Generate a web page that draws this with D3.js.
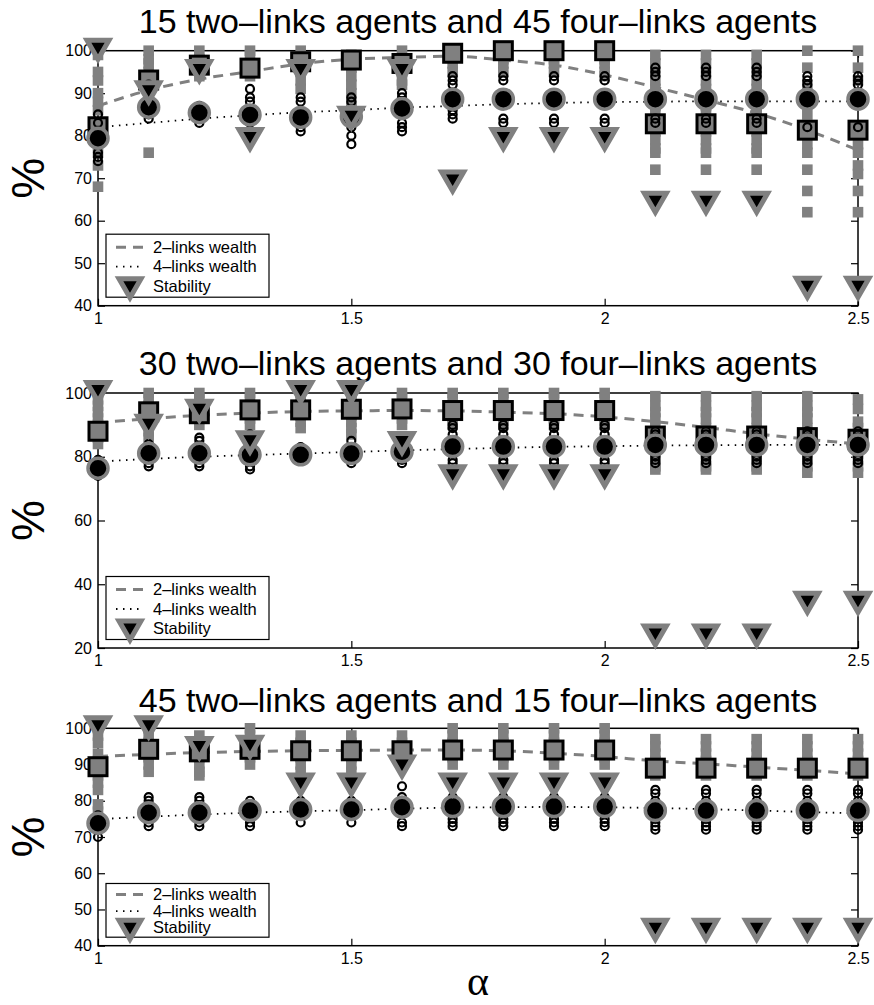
<!DOCTYPE html>
<html>
<head>
<meta charset="utf-8">
<script src="https://cdn.jsdelivr.net/npm/d3@7"></script>
<style>
body { margin: 0; background: #fff; }
svg { display: block; }
text { font-family: "Liberation Sans", Arial, Helvetica, sans-serif; fill: #000; }
</style>
</head>
<body>
<svg width="874" height="1005"></svg>
<script>
// alpha values on the x axis
const alphas = [1.0, 1.1, 1.2, 1.3, 1.4, 1.5, 1.6, 1.7, 1.8, 1.9, 2.0, 2.1, 2.2, 2.3, 2.4, 2.5]
const xTicks = [1, 1.5, 2, 2.5]

const titles = [
    '15 two\u2013links agents and 45 four\u2013links agents',
    '30 two\u2013links agents and 30 four\u2013links agents',
    '45 two\u2013links agents and 15 four\u2013links agents'
]
const yDomains = [[40, 100], [20, 100], [40, 100]]
const yTicks = [
    [40, 50, 60, 70, 80, 90, 100],
    [20, 40, 60, 80, 100],
    [40, 50, 60, 70, 80, 90, 100]
]
const legendLabels = ['2\u2013links wealth', '4\u2013links wealth', 'Stability']

// ---- panel 1 : 15 / 45 ----
const p1TwoMean = [82.1, 93.1, 96.6, 95.9, 97.4, 97.8, 97.0, 99.4, 100, 100, 100, 82.8, 82.8, 82.8, 81.3, 81.3]
const p1FourMean = [79.4, 86.7, 85.4, 84.9, 84.3, 84.5, 86.4, 88.6, 88.6, 88.6, 88.6, 88.6, 88.6, 88.6, 88.6, 88.6]
const p1Stability = [100, 90, 95, 79, 95, 84, 95, 69, 79, 79, 79, 64, 64, 64, 44, 44]
const p1TwoTrend = [87.0, 90.7, 93.3, 95.1, 96.9, 98.0, 98.4, 98.7, 97.8, 96.6, 94.3, 91.4, 88.4, 85.3, 81.3, 76.6]
const p1FourTrend = [82.0, 83.0, 84.0, 84.8, 85.5, 86.0, 86.6, 87.0, 87.4, 87.7, 87.9, 88.0, 88.1, 88.1, 88.1, 88.1]
const p1TwoRuns = [
    [99, 95, 93, 90, 88, 86, 82, 79, 76, 73, 68],
    [100, 98, 97, 95, 94, 92, 91, 76],
    [100, 98, 97, 95, 94],
    [100, 99, 97, 96, 95, 94],
    [100, 98, 96, 95, 93, 91],
    [99, 98, 96, 94, 92, 90, 88, 87],
    [100, 98, 97, 95, 93, 92],
    [100, 99, 97, 95],
    [100, 98, 97, 95],
    [100, 98, 97, 95],
    [100, 98, 97, 95, 94],
    [99, 97, 95, 93, 91, 89, 87, 85, 83, 81, 79, 77, 76, 72],
    [99, 97, 95, 93, 91, 89, 87, 85, 83, 81, 79, 77, 76, 72],
    [99, 97, 95, 93, 91, 89, 87, 85, 83, 81, 79, 77, 76, 72],
    [100, 96, 92, 88, 85, 81, 78, 76, 72, 67, 62],
    [100, 96, 93, 81, 78, 76, 73, 71, 67, 62]
]
const p1FourRuns = [
    [85, 83, 81, 78, 76, 75, 74],
    [92, 88, 87, 85, 84],
    [87, 86, 84, 83],
    [91, 89, 88, 83],
    [89, 88, 85, 83, 82, 81],
    [89, 88, 84, 82, 80, 78],
    [90, 89, 85, 83, 82, 81],
    [94, 93, 92, 86, 85, 84],
    [94, 93, 84, 83],
    [94, 93, 84, 83],
    [94, 93, 84, 83],
    [96, 95, 94, 84, 83],
    [96, 95, 94, 84, 83],
    [96, 95, 94, 84, 83],
    [94, 93, 92, 82],
    [94, 93, 92, 82]
]

// ---- panel 2 : 30 / 30 ----
const p2TwoMean = [88, 94.1, 93.5, 94.7, 94.7, 94.9, 95, 94.5, 94.5, 94.5, 94.5, 86.5, 86.5, 86.5, 86, 85.5]
const p2FourMean = [76.4, 81.1, 81.1, 80.6, 80.6, 81, 81.6, 83.2, 83.2, 83.2, 83.2, 83.7, 83.7, 83.7, 83.7, 83.7]
const p2Stability = [100, 89.4, 94.1, 84.2, 100, 100, 84, 73.6, 73.6, 73.6, 73.6, 23.6, 23.6, 23.6, 33.9, 33.9]
const p2TwoTrend = [90.7, 91.9, 93.0, 93.7, 94.2, 94.4, 94.5, 94.4, 94.0, 93.5, 92.5, 91.0, 89.2, 87.2, 85.5, 84.0]
const p2FourTrend = [78.5, 79.3, 80.0, 80.5, 81.0, 81.5, 82.0, 82.4, 82.8, 83.1, 83.3, 83.5, 83.6, 83.7, 83.7, 83.7]
const p2TwoRuns = [
    [100, 98, 96, 94, 92, 90, 88, 86, 84],
    [100, 98, 96, 94, 92, 90, 88, 86],
    [100, 98, 96, 94, 92, 90],
    [100, 98, 96, 94, 92, 90],
    [100, 97, 95, 93, 91, 89],
    [100, 97, 95, 93, 91, 89, 87],
    [100, 98, 96, 94, 92, 90],
    [100, 98, 96, 94, 92, 90],
    [100, 98, 96, 94, 92, 90],
    [100, 98, 96, 94, 92, 90],
    [100, 98, 96, 94, 92, 90],
    [99, 96, 94, 92, 89, 87, 85, 83, 81, 79, 77, 76],
    [99, 96, 94, 92, 89, 87, 85, 83, 81, 79, 77, 76],
    [99, 96, 94, 92, 89, 87, 85, 83, 81, 79, 77, 76],
    [99, 96, 94, 92, 89, 87, 85, 83, 81, 79, 77, 75],
    [98, 95, 91, 89, 87, 85, 83, 81, 79, 77, 75]
]
const p2FourRuns = [
    [79, 77, 75, 74],
    [84, 82, 80, 78, 77],
    [86, 85, 82, 80, 78, 77],
    [87, 84, 82, 79, 77, 76],
    [83, 82, 80, 79],
    [85, 83, 81, 79, 78],
    [85, 83, 81, 79, 78],
    [90, 89, 87, 85, 81, 79, 78],
    [90, 89, 87, 85, 81, 79, 78],
    [90, 89, 87, 85, 81, 79, 78],
    [90, 89, 87, 85, 81, 79, 78],
    [88, 87, 86, 85, 82, 80, 79, 78],
    [88, 87, 86, 85, 82, 80, 79, 78],
    [88, 87, 86, 85, 82, 80, 79, 78],
    [88, 87, 86, 85, 82, 80, 79, 78],
    [88, 87, 86, 85, 82, 80, 79, 78]
]

// ---- panel 3 : 45 / 15 ----
const p3TwoMean = [89.4, 94.2, 93.5, 94.2, 93.8, 93.8, 93.8, 94, 94, 94, 94, 89, 89, 89, 89, 89]
const p3FourMean = [73.8, 76.7, 76.7, 77.3, 77.6, 77.6, 78.2, 78.4, 78.4, 78.4, 78.4, 77.3, 77.3, 77.3, 77.3, 77.3]
const p3Stability = [100, 100, 94.3, 94.6, 84.2, 84.2, 89.2, 84.2, 84.2, 84.2, 84.2, 44.1, 44.1, 44.1, 44.1, 44.1]
const p3TwoTrend = [92.2, 92.8, 93.3, 93.6, 93.8, 93.9, 94.0, 94.0, 93.8, 93.1, 92.2, 91.0, 90.2, 89.3, 88.4, 87.4]
const p3FourTrend = [74.9, 75.6, 76.2, 76.7, 77.1, 77.4, 77.8, 78.1, 78.2, 78.3, 78.2, 78.0, 77.7, 77.3, 76.9, 76.5]
const p3TwoRuns = [
    [100, 98, 96, 93, 91, 89, 87, 85, 83, 79, 77],
    [100, 98, 96, 94, 92, 90, 88],
    [98, 96, 94, 92, 90, 88, 87],
    [100, 98, 96, 94, 92, 90],
    [98, 96, 94, 92, 90, 88],
    [98, 96, 94, 92, 90, 88],
    [98, 96, 94, 92, 90],
    [100, 98, 96, 94, 92, 90],
    [100, 98, 96, 94, 92, 90],
    [100, 98, 96, 94, 92, 90],
    [100, 98, 96, 94, 92, 90],
    [97, 95, 93, 91, 89, 87],
    [97, 95, 93, 91, 89, 87],
    [97, 95, 93, 91, 89, 87],
    [97, 95, 93, 91, 89, 87],
    [97, 95, 93, 91, 89, 87]
]
const p3FourRuns = [
    [76, 75, 74, 72, 70],
    [81, 80, 79, 74, 73],
    [81, 80, 74, 73],
    [80, 79, 74, 73],
    [80, 79, 74],
    [80, 79, 74],
    [84, 81, 80, 74, 73],
    [81, 80, 75, 74, 73],
    [81, 80, 75, 74, 73],
    [81, 80, 75, 74, 73],
    [81, 80, 75, 74, 73],
    [83, 82, 80, 76, 75, 74, 73, 72],
    [83, 82, 80, 76, 75, 74, 73, 72],
    [83, 82, 80, 76, 75, 74, 73, 72],
    [83, 82, 80, 76, 75, 74, 73, 72],
    [83, 82, 80, 76, 75, 74, 73, 72]
]

const panelData = [
    {twoMean: p1TwoMean, fourMean: p1FourMean, stab: p1Stability, twoTrend: p1TwoTrend, fourTrend: p1FourTrend, twoRuns: p1TwoRuns, fourRuns: p1FourRuns},
    {twoMean: p2TwoMean, fourMean: p2FourMean, stab: p2Stability, twoTrend: p2TwoTrend, fourTrend: p2FourTrend, twoRuns: p2TwoRuns, fourRuns: p2FourRuns},
    {twoMean: p3TwoMean, fourMean: p3FourMean, stab: p3Stability, twoTrend: p3TwoTrend, fourTrend: p3FourTrend, twoRuns: p3TwoRuns, fourRuns: p3FourRuns}
]

// layout
const svg = d3.select('svg')
const left = 98, right = 858
const boxes = [
    {top: 50.7, bottom: 305.7, titleY: 33},
    {top: 393, bottom: 648, titleY: 375},
    {top: 728.3, bottom: 945.7, titleY: 712}
]
const gray = '#808080'
const tri = 'M-11,-10.5L11,-10.5L0,8.5Z'

const x = d3.scaleLinear().domain([1, 2.5]).range([left, right])

boxes.forEach((b, i) => {
    const d = panelData[i]
    const y = d3.scaleLinear().domain(yDomains[i]).range([b.bottom, b.top])
    const g = svg.append('g')

    // title
    g.append('text')
        .attr('x', (left + right) / 2)
        .attr('y', b.titleY)
        .attr('text-anchor', 'middle')
        .attr('font-size', 34)
        .text(titles[i])

    // y label
    g.append('text')
        .attr('transform', `translate(44, ${(b.top + b.bottom) / 2}) rotate(-90)`)
        .attr('text-anchor', 'middle')
        .attr('font-size', 46)
        .text('%')

    // box
    g.append('rect')
        .attr('x', left).attr('y', b.top)
        .attr('width', right - left).attr('height', b.bottom - b.top)
        .attr('fill', 'none').attr('stroke', '#000').attr('stroke-width', 1.5)

    // axes, ticks pointing inward
    const axisStyle = sel => {
        sel.select('.domain').remove()
        sel.selectAll('line').attr('stroke', '#000').attr('stroke-width', 1.2)
        sel.selectAll('text').attr('font-size', 16).attr('font-family', '"Liberation Sans", Arial, sans-serif')
    }
    g.append('g').attr('transform', `translate(${left},0)`)
        .call(d3.axisLeft(y).tickValues(yTicks[i]).tickSize(-7).tickPadding(6))
        .call(axisStyle)
    g.append('g').attr('transform', `translate(${right},0)`)
        .call(d3.axisRight(y).tickValues(yTicks[i]).tickSize(-7).tickFormat(''))
        .call(axisStyle)
    g.append('g').attr('transform', `translate(0,${b.bottom})`)
        .call(d3.axisBottom(x).tickValues(xTicks).tickSize(-7).tickPadding(7).tickFormat(d3.format('')))
        .call(axisStyle)
    g.append('g').attr('transform', `translate(0,${b.top})`)
        .call(d3.axisTop(x).tickValues(xTicks).tickSize(-7).tickFormat(''))
        .call(axisStyle)

    // individual runs, 2-links (small gray squares)
    const twoPts = d.twoRuns.flatMap((vals, j) => vals.map(v => [alphas[j], v]))
    g.append('g').selectAll('rect')
        .data(twoPts)
        .join('rect')
            .attr('x', p => x(p[0]) - 5.3)
            .attr('y', p => y(p[1]) - 5.3)
            .attr('width', 10.6)
            .attr('height', 10.6)
            .attr('fill', gray)

    // trend lines
    const line = d3.line()
        .x((v, j) => x(alphas[j]))
        .y(v => y(v))
        .curve(d3.curveMonotoneX)
    g.append('path')
        .attr('d', line(d.twoTrend))
        .attr('fill', 'none').attr('stroke', gray).attr('stroke-width', 3)
        .attr('stroke-dasharray', '10,7')
    g.append('path')
        .attr('d', line(d.fourTrend))
        .attr('fill', 'none').attr('stroke', '#000').attr('stroke-width', 1.8)
        .attr('stroke-dasharray', '1.5,5.5')

    // 2-links mean squares
    g.append('g').selectAll('rect')
        .data(d.twoMean)
        .join('rect')
            .attr('x', (v, j) => x(alphas[j]) - 9)
            .attr('y', v => y(v) - 9)
            .attr('width', 18).attr('height', 18)
            .attr('fill', gray).attr('stroke', '#000').attr('stroke-width', 3)

    // individual runs, 4-links (small open circles)
    const fourPts = d.fourRuns.flatMap((vals, j) => vals.map(v => [alphas[j], v]))
    g.append('g').selectAll('circle')
        .data(fourPts)
        .join('circle')
            .attr('cx', p => x(p[0]))
            .attr('cy', p => y(p[1]))
            .attr('r', 4)
            .attr('fill', 'none').attr('stroke', '#000').attr('stroke-width', 2.2)

    // 4-links mean circles
    g.append('g').selectAll('circle')
        .data(d.fourMean)
        .join('circle')
            .attr('cx', (v, j) => x(alphas[j]))
            .attr('cy', v => y(v))
            .attr('r', 10)
            .attr('fill', '#000').attr('stroke', gray).attr('stroke-width', 3.5)

    // stability triangles
    g.append('g').selectAll('path')
        .data(d.stab)
        .join('path')
            .attr('transform', (v, j) => `translate(${x(alphas[j])},${y(v)})`)
            .attr('d', tri)
            .attr('fill', '#000').attr('stroke', gray).attr('stroke-width', 5)

    // legend
    const s = (b.bottom - b.top) / 255
    const lh = 63 * s
    const ly = b.bottom - 8.5 - lh
    const leg = g.append('g')
    leg.append('rect')
        .attr('x', 106).attr('y', ly)
        .attr('width', 163).attr('height', lh)
        .attr('fill', '#fff').attr('stroke', '#000').attr('stroke-width', 1.2)
    const rows = [13, 32.5, 52].map(r => ly + r * s)
    leg.append('line')
        .attr('x1', 116).attr('x2', 144).attr('y1', rows[0]).attr('y2', rows[0])
        .attr('stroke', gray).attr('stroke-width', 3).attr('stroke-dasharray', '10,7')
    leg.append('line')
        .attr('x1', 116).attr('x2', 144).attr('y1', rows[1]).attr('y2', rows[1])
        .attr('stroke', '#000').attr('stroke-width', 1.8).attr('stroke-dasharray', '1.5,5.5')
    leg.append('path')
        .attr('transform', `translate(130,${rows[2] + 3})`)
        .attr('d', tri)
        .attr('fill', '#000').attr('stroke', gray).attr('stroke-width', 5)
    leg.selectAll('text.lab')
        .data(legendLabels)
        .join('text')
            .attr('class', 'lab')
            .attr('x', 153)
            .attr('y', (t, k) => rows[k] + 5.5)
            .attr('font-size', 16.5)
            .text(t => t)
})

// x label
svg.append('text')
    .attr('x', 478)
    .attr('y', 995)
    .attr('text-anchor', 'middle')
    .attr('font-size', 42)
    .style('font-family', '"Liberation Serif", "Times New Roman", serif')
    .text('\u03b1')
</script>
</body>
</html>
